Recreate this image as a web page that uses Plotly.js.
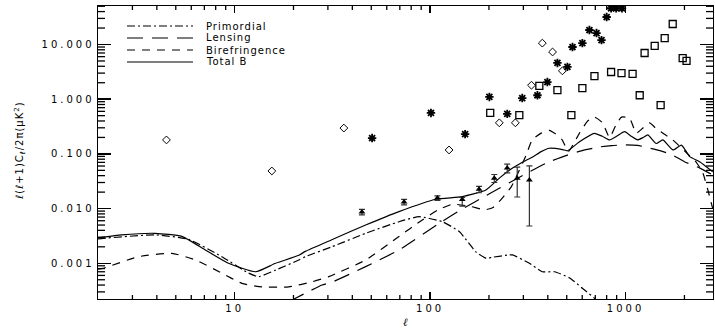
<!DOCTYPE html>
<html>
<head>
<meta charset="utf-8">
<script src="https://cdn.plot.ly/plotly-3.0.1.min.js"></script>
<style>
  html, body { margin: 0; padding: 0; background: #fff; }
  #chart { width: 715px; height: 328px; }
  .xtick text, .ytick text { letter-spacing: 3px; }
  .annotation-text { letter-spacing: 1px; }
</style>
</head>
<body>
<div id="chart"></div>
<script>
// ---- Model curves (multipole l, l(l+1)C_l/2pi in uK^2) ----
const lPrim = [2, 2.13, 3.92, 5.8, 8.6, 11.8, 13.3, 16.2, 21.3, 23, 31.4, 46.8, 69.3, 87.9, 115.5, 141, 172, 194, 208, 254, 264, 322, 375, 433, 517, 601, 693, 760];
const cPrim = [0.0028, 0.00286, 0.0033, 0.00274, 0.00132, 0.00066, 0.00057, 0.00075, 0.00115, 0.00132, 0.002, 0.00353, 0.00575, 0.0071, 0.00575, 0.0038, 0.0016, 0.00123, 0.00129, 0.00142, 0.00142, 0.001, 0.0007, 0.0007, 0.00054, 0.00035, 0.00023, 0.00017];

const lLens = [19, 28, 31.4, 46.8, 69.3, 115, 146, 200, 279, 322, 400, 504, 600, 736, 850, 1000, 1150, 1300, 1500, 1742, 2000, 2400, 2790];
const cLens = [0.0002, 0.0004, 0.00045, 0.00087, 0.00175, 0.0058, 0.0098, 0.0185, 0.0356, 0.047, 0.07, 0.095, 0.115, 0.134, 0.142, 0.146, 0.143, 0.13, 0.115, 0.095, 0.072, 0.055, 0.041];

const lBire = [2, 2.13, 3.22, 4.77, 6.3, 8.6, 10.9, 13.8, 18.9, 25, 30.3, 46.8, 69.3, 90, 110, 130, 160, 190, 210, 234, 260, 286, 310, 333, 370, 407, 447, 474, 510, 545, 581, 640, 693, 762, 828, 890, 953, 1048, 1134, 1230, 1327, 1420, 1548, 1742, 2056, 2300, 2483, 2698, 2790];
const cBire = [0.00078, 0.00081, 0.00132, 0.00152, 0.00115, 0.00066, 0.00043, 0.00037, 0.00037, 0.00046, 0.00057, 0.00115, 0.0031, 0.006, 0.0095, 0.012, 0.011, 0.0095, 0.0105, 0.0156, 0.025, 0.05, 0.095, 0.18, 0.24, 0.27, 0.22, 0.18, 0.11, 0.16, 0.24, 0.4, 0.47, 0.37, 0.2, 0.33, 0.47, 0.45, 0.24, 0.3, 0.37, 0.3, 0.24, 0.18, 0.104, 0.07, 0.045, 0.016, 0.01];

const lTot = [2, 2.13, 2.64, 3.92, 5.37, 7.08, 9.3, 12.8, 16.2, 21.3, 23, 31.4, 46.8, 69.3, 107, 146, 193, 226, 263, 300, 333, 370, 407, 476, 505, 581, 693, 760, 828, 900, 988, 1070, 1153, 1230, 1300, 1435, 1550, 1750, 1930, 2130, 2393, 2790];
const cTot = [0.0029, 0.003, 0.0033, 0.00353, 0.0031, 0.00175, 0.001, 0.0007, 0.001, 0.0014, 0.00165, 0.0027, 0.005, 0.0088, 0.0148, 0.0165, 0.0219, 0.036, 0.0546, 0.072, 0.087, 0.11, 0.127, 0.12, 0.114, 0.167, 0.238, 0.21, 0.18, 0.21, 0.255, 0.21, 0.18, 0.2, 0.222, 0.155, 0.18, 0.118, 0.145, 0.089, 0.072, 0.047];

// ---- Observational points ----
const lDiam = [4.48, 15.5, 36.2, 125, 226, 273, 330, 375, 423, 475];
const cDiam = [0.18, 0.0487, 0.297, 0.118, 0.37, 0.37, 1.8, 10.6, 7.3, 3.3];

const lStar = [50.5, 101, 151, 201, 248, 296, 354, 398, 448, 504, 535, 601, 653, 710, 753, 800, 843, 894, 958];
const cStar = [0.195, 0.56, 0.23, 1.1, 0.54, 1.05, 1.18, 2.06, 4.6, 3.9, 9.0, 10.6, 18.4, 16.2, 12, 31.8, 46, 46, 46];

const lSq = [203, 286, 362, 448, 528, 601, 693, 843, 953, 1086, 1181, 1251, 1409, 1511, 1585, 1742, 1959, 2050];
const cSq = [0.56, 0.51, 1.75, 1.47, 0.51, 1.6, 2.65, 3.14, 3.0, 2.9, 1.18, 7.0, 9.4, 0.78, 13.1, 23.7, 5.65, 5.0];

const lDet = [44.8, 73.6, 109, 146, 178, 213, 248, 279, 322];
const cDet = [0.0087, 0.0132, 0.0156, 0.0146, 0.0225, 0.036, 0.055, 0.036, 0.0333];
const errUp = [0.001, 0.0015, 0.0015, 0.0015, 0.003, 0.006, 0.01, 0.0215, 0.027];
const errDn = [0.001, 0.0015, 0.0015, 0.0035, 0.003, 0.006, 0.01, 0.0197, 0.0285];

// ---- Axis labels ----
const xTickVals = [10, 100, 1000];
const xTickText = ['10', '100', '1000'];
const yTickVals = [0.001, 0.01, 0.1, 1, 10];
const yTickText = ['0.001', '0.010', '0.100', '1.000', '10.000'];
const legendNames = ['Primordial', 'Lensing', 'Birefringence', 'Total B'];

const dashPrim = '8px,3px,2px,3px';
const dashLens = '16px,9px';
const dashBire = '8px,7px';

const xRange = [Math.log10(2), Math.log10(2800)];
const yRange = [-3.653, 1.704];

function minorVals(lo, hi, rng) {
  const v = [];
  for (let e = lo; e <= hi; e++) for (let m = 2; m <= 9; m++) {
    const val = m * Math.pow(10, e);
    const lg = Math.log10(val);
    if (lg > rng[0] + 1e-6 && lg < rng[1] - 1e-6) v.push(val);
  }
  return v;
}

const lineW = 1.2;
const smooth = 0.5;
const traces = [
  {x: lPrim, y: cPrim, mode: 'lines', line: {color: 'black', width: lineW, dash: dashPrim, shape: 'spline', smoothing: smooth}, hoverinfo: 'skip'},
  {x: lLens, y: cLens, mode: 'lines', line: {color: 'black', width: lineW, dash: dashLens, shape: 'spline', smoothing: smooth}, hoverinfo: 'skip'},
  {x: lBire, y: cBire, mode: 'lines', line: {color: 'black', width: lineW, dash: dashBire, shape: 'spline', smoothing: smooth}, hoverinfo: 'skip'},
  {x: lTot, y: cTot, mode: 'lines', line: {color: 'black', width: lineW, shape: 'spline', smoothing: smooth}, hoverinfo: 'skip'},
  {x: lDiam, y: cDiam, mode: 'markers', marker: {symbol: 'diamond-open', size: 6, color: 'black', line: {width: 1, color: 'black'}}},
  {x: lSq, y: cSq, mode: 'markers', marker: {symbol: 'square-open', size: 7, color: 'black', line: {width: 1.3, color: 'black'}}},
  {x: lStar, y: cStar, mode: 'markers', marker: {symbol: 'asterisk-open', size: 7, color: 'black', line: {width: 1.8, color: 'black'}}},
  {x: lDet, y: cDet, mode: 'markers', marker: {symbol: 'triangle-up', size: 6, color: 'black'},
   error_y: {type: 'data', symmetric: false, array: errUp, arrayminus: errDn, color: '#333', thickness: 1.2, width: 3}}
];

const L = 98, R = 2, T = 6, B = 29, W = 715, H = 328;
const pw = W - L - R, ph = H - T - B;
const px2x = p => (p - L) / pw;
const px2y = p => (H - B - p) / ph;

const shapes = [];
const annotations = [];

// minor ticks on all four sides (axis decoration)
const xMinorLen = 4 / ph, yMinorLen = 7 / pw;
const tickStyle = {color: 'black', width: 1.3};
minorVals(0, 3, xRange).forEach(v => {
  const xp = (Math.log10(v) - xRange[0]) / (xRange[1] - xRange[0]);
  shapes.push({type: 'line', layer: 'above', xref: 'paper', yref: 'paper', x0: xp, x1: xp, y0: 0, y1: xMinorLen, line: tickStyle});
  shapes.push({type: 'line', layer: 'above', xref: 'paper', yref: 'paper', x0: xp, x1: xp, y0: 1, y1: 1 - xMinorLen, line: tickStyle});
});
minorVals(-4, 1, yRange).forEach(v => {
  const yp = (Math.log10(v) - yRange[0]) / (yRange[1] - yRange[0]);
  shapes.push({type: 'line', layer: 'above', xref: 'paper', yref: 'paper', x0: 0, x1: yMinorLen, y0: yp, y1: yp, line: tickStyle});
  shapes.push({type: 'line', layer: 'above', xref: 'paper', yref: 'paper', x0: 1, x1: 1 - yMinorLen, y0: yp, y1: yp, line: tickStyle});
});

const legendDash = [dashPrim, dashLens, dashBire, 'solid'];
const legendY = [26, 38, 50, 62];
legendNames.forEach((name, i) => {
  shapes.push({type: 'line', xref: 'paper', yref: 'paper', x0: px2x(127), x1: px2x(193), y0: px2y(legendY[i]), y1: px2y(legendY[i]),
    line: {color: 'black', width: lineW, dash: legendDash[i]}});
  annotations.push({xref: 'paper', yref: 'paper', x: px2x(204), y: px2y(legendY[i]), xanchor: 'left', yanchor: 'middle',
    text: name, showarrow: false, font: {family: 'DejaVu Sans', size: 10, color: 'black'}});
});
annotations.push({xref: 'paper', yref: 'paper', x: px2x(20), y: px2y(150), xanchor: 'center', yanchor: 'middle', textangle: -90,
  text: 'ℓ(ℓ+1)C<sub>ℓ</sub>/2π(μK<sup>2</sup>)', showarrow: false, font: {family: 'DejaVu Sans', size: 10, color: 'black'}});
annotations.push({xref: 'paper', yref: 'paper', x: 0.5, y: px2y(322), xanchor: 'center', yanchor: 'middle',
  text: '<i>ℓ</i>', showarrow: false, font: {family: 'DejaVu Serif', size: 11, color: 'black'}});

const axisCommon = {
  type: 'log', showgrid: false, zeroline: false, showline: true, linecolor: 'black', linewidth: 1.4,
  mirror: 'allticks', ticks: 'inside', tickcolor: 'black', tickwidth: 1.5,
  tickfont: {family: 'DejaVu Sans', size: 10, color: 'black'}
};

const layout = {
  width: W, height: H,
  margin: {l: L, r: R, t: T, b: B, pad: 0},
  paper_bgcolor: 'white', plot_bgcolor: 'white',
  showlegend: false,
  xaxis: Object.assign({}, axisCommon, {
    range: xRange, tickmode: 'array', tickvals: xTickVals, ticktext: xTickText, ticklen: 7
  }),
  yaxis: Object.assign({}, axisCommon, {
    range: yRange, tickmode: 'array', tickvals: yTickVals, ticktext: yTickText, ticklen: 13
  }),
  shapes: shapes,
  annotations: annotations
};

Plotly.newPlot('chart', traces, layout, {staticPlot: true, displayModeBar: false});
</script>
</body>
</html>
